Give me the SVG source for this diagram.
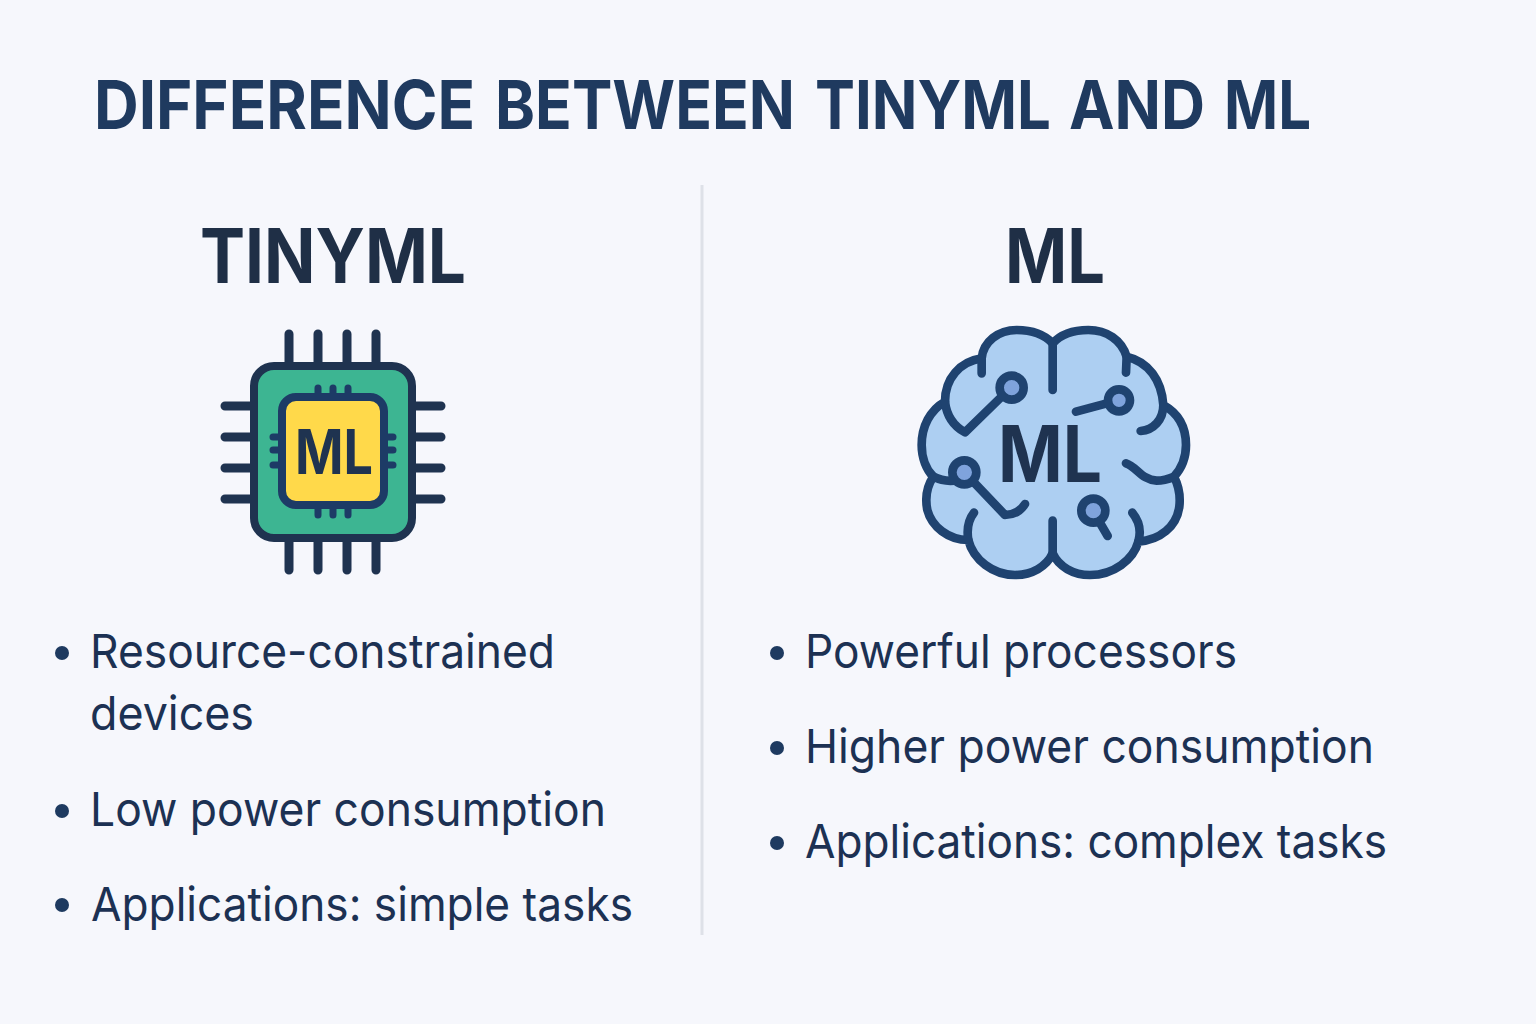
<svg xmlns="http://www.w3.org/2000/svg" width="1536" height="1024" viewBox="0 0 1536 1024">
<style>
text{font-family:"Inter","Noto Sans","Liberation Sans",sans-serif}
.t{font-weight:700;fill:#1F3A5F;font-size:68px}
.h{font-weight:700;fill:#1F2F46;font-size:76px}
.b{font-weight:400;fill:#1C3153;font-size:47px}
.d{fill:#1E3A60}
.p{stroke:#1F3350;stroke-width:9;stroke-linecap:round;fill:none}
.q{stroke:#1D3B66;stroke-width:7;stroke-linecap:round;fill:none}
.s{stroke:#1F4370;stroke-width:26;stroke-linecap:round;stroke-linejoin:round;fill:none}
.n{stroke:#1F4370;stroke-width:26;fill:#7FA3DC}
</style>
<rect width="1536" height="1024" fill="#F6F7FC"/>
<g id="title"><text class="t" y="129"><tspan x="94" textLength="381" lengthAdjust="spacingAndGlyphs">DIFFERENCE</tspan> <tspan x="495" textLength="300" lengthAdjust="spacingAndGlyphs">BETWEEN</tspan> <tspan x="815" textLength="236" lengthAdjust="spacingAndGlyphs">TINYML</tspan> <tspan x="1069" textLength="136" lengthAdjust="spacingAndGlyphs">AND</tspan> <tspan x="1224" textLength="87" lengthAdjust="spacingAndGlyphs">ML</tspan></text></g>
<rect id="divider" x="700.500" y="185" width="3" height="750" fill="#DEE1E8"/>
<g id="tinyml-head"><text class="h" x="200" y="283" textLength="266" lengthAdjust="spacingAndGlyphs">TINYML</text></g>
<g id="ml-head"><text class="h" x="1005" y="283" textLength="100" lengthAdjust="spacingAndGlyphs">ML</text></g>
<g id="chip">
<path class="p" d="M289 334V362M318 334V362M347 334V362M376 334V362M289 542V570M318 542V570M347 542V570M376 542V570M225 406H250M225 437H250M225 468H250M225 499H250M416 406H441M416 437H441M416 468H441M416 499H441"/>
<rect x="254" y="366" width="158" height="172" rx="20" fill="#3DB592" stroke="#1F3350" stroke-width="8"/>
<path class="q" d="M318 388V395M333 388V395M348 388V395M318 508V515M333 508V515M348 508V515M273 437H280M273 450H280M273 465H280M386 437H393M386 450H393M386 465H393"/>
<rect x="282" y="397" width="102" height="108" rx="14" fill="#FFD94A" stroke="#1D3B66" stroke-width="8"/>
<text x="295" y="474" font-size="62" font-weight="700" fill="#1F3350" textLength="78" lengthAdjust="spacingAndGlyphs">ML</text>
</g>
<g id="brain">
<g transform="translate(900 310) scale(.33333)">
<path class="s" style="fill:#ADCFF2" d="M458 100C430 70 395 60 350 60C295 60 250 95 245 145C180 155 135 205 135 275C90 300 65 350 65 405C65 445 80 480 100 500C80 530 75 565 82 600C95 650 145 690 205 690C220 750 280 795 345 795C395 795 440 770 458 730C476 770 520 795 570 795C640 795 700 750 715 695C780 690 830 650 838 590C842 555 835 525 822 500C845 475 858 445 858 405C858 350 835 310 790 285C785 210 745 155 680 140C665 90 620 60 565 60C520 60 485 70 458 100Z"/>
<path class="s" d="M458 100V240M245 145V190M680 140L678 188M135 275C140 320 165 350 195 367L310 255M528 305L640 275M790 285C790 330 760 360 722 363M100 500C120 510 150 515 175 510M215 510L315 615C340 615 360 605 375 582M678 460C710 470 725 510 770 512C790 512 810 505 822 500M595 630L623 678M205 690C200 660 205 630 222 608M715 695C725 660 715 630 697 608M458 730V632"/>
<circle class="n" cx="335" cy="233" r="36"/>
<circle class="n" cx="657" cy="271" r="33"/>
<circle class="n" cx="193" cy="487" r="36"/>
<circle class="n" cx="580" cy="602" r="36"/>
</g>
<text x="998" y="482" font-size="78" font-weight="700" fill="#1F3350" textLength="104" lengthAdjust="spacingAndGlyphs">ML</text>
</g>
<g id="tinyml-list">
<circle class="d" cx="62" cy="653" r="7"/><circle class="d" cx="62" cy="811" r="7"/><circle class="d" cx="62" cy="905" r="7"/>
<text class="b" x="90" y="668" textLength="465" lengthAdjust="spacingAndGlyphs">Resource-constrained</text>
<text class="b" x="90" y="730" textLength="164" lengthAdjust="spacingAndGlyphs">devices</text>
<text class="b" x="90" y="826" textLength="516" lengthAdjust="spacingAndGlyphs">Low power consumption</text>
<text class="b" x="91" y="921" textLength="542" lengthAdjust="spacingAndGlyphs">Applications: simple tasks</text>
</g>
<g id="ml-list">
<circle class="d" cx="777" cy="653" r="7"/><circle class="d" cx="777" cy="748" r="7"/><circle class="d" cx="777" cy="843" r="7"/>
<text class="b" x="805" y="668" textLength="432" lengthAdjust="spacingAndGlyphs">Powerful processors</text>
<text class="b" x="805" y="763" textLength="569" lengthAdjust="spacingAndGlyphs">Higher power consumption</text>
<text class="b" x="805" y="858" textLength="582" lengthAdjust="spacingAndGlyphs">Applications: complex tasks</text>
</g>
</svg>
